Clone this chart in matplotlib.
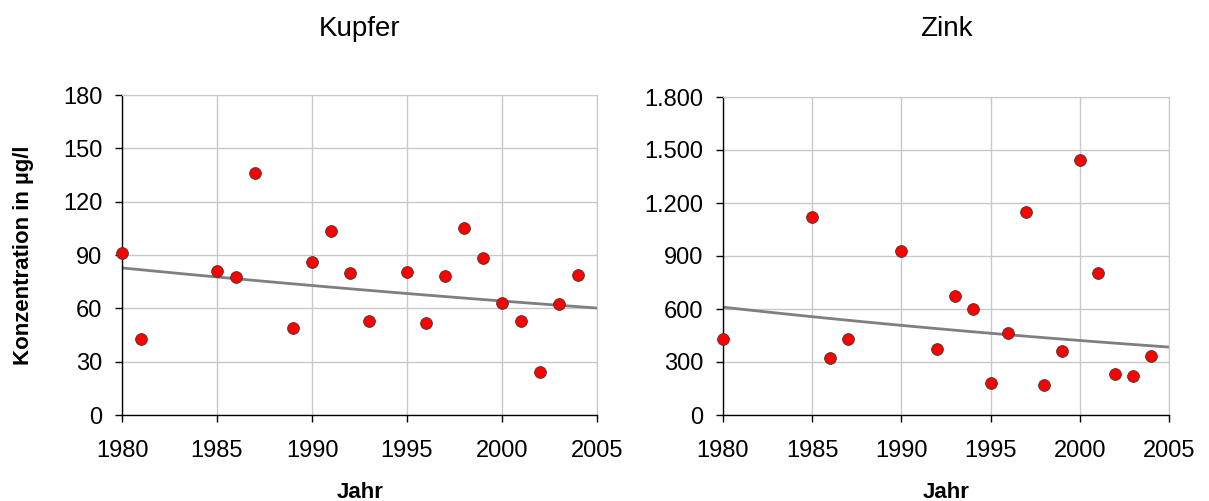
import numpy as np
import matplotlib
matplotlib.use('Agg')
import matplotlib.pyplot as plt
from matplotlib.ticker import FuncFormatter

plt.rcParams['font.family'] = ['Liberation Sans', 'DejaVu Sans']

## Messwerte ##
kupfer_jahre = [1980, 1981, 1985, 1986, 1987, 1989, 1990, 1991, 1992, 1993,
                1995, 1996, 1997, 1998, 1999, 2000, 2001, 2002, 2003, 2004]
kupfer_werte = [90.9, 42.9, 81.2, 77.4, 136.1, 48.9, 86.1, 103.3, 79.7, 53.1,
                80.6, 51.8, 78.4, 105.0, 88.3, 63.2, 52.7, 24.0, 62.4, 78.9]

zink_jahre = [1980, 1985, 1986, 1987, 1990, 1992, 1993, 1994, 1995, 1996,
              1997, 1998, 1999, 2000, 2001, 2002, 2003, 2004]
zink_werte = [430, 1118, 322, 433, 929, 375, 671, 601, 179, 462,
              1150, 170, 364, 1442, 801, 232, 220, 334]

x_ticks = [1980, 1985, 1990, 1995, 2000, 2005]
kupfer_yticks = [0, 30, 60, 90, 120, 150, 180]
zink_yticks = [0, 300, 600, 900, 1200, 1500, 1800]


def tausender(v, pos):
    return f'{int(v):,}'.replace(',', '.')


def trend(jahre, werte):
    # exponentieller Trend (lineare Regression auf log-Werte)
    b, a = np.polyfit(jahre, np.log(werte), 1)
    xs = np.linspace(1980, 2005, 100)
    return xs, np.exp(a + b * xs)


fig = plt.figure(figsize=(12.09, 5.01), dpi=100)
ax1 = fig.add_axes([122 / 1209, 86 / 501, 475 / 1209, 320 / 501])
ax2 = fig.add_axes([723 / 1209, 86 / 501, 446 / 1209, 318 / 501])

for ax, jahre, werte, yt in [(ax1, kupfer_jahre, kupfer_werte, kupfer_yticks),
                             (ax2, zink_jahre, zink_werte, zink_yticks)]:
    xs, ys = trend(jahre, werte)
    ax.plot(xs, ys, color='#7f7f7f', linewidth=2.0, zorder=2)
    ax.scatter(jahre, werte, s=72, color='#ff0000', edgecolors='#3a3a3a',
               linewidths=0.6, zorder=3, clip_on=False)
    ax.set_xlim(1980, 2005)
    ax.set_ylim(yt[0], yt[-1])
    ax.set_xticks(x_ticks)
    ax.set_yticks(yt)
    ax.grid(True, color='#c8c8c8', linewidth=1.0, zorder=0)
    ax.set_axisbelow(True)
    ax.spines['top'].set_color('#c8c8c8')
    ax.spines['right'].set_color('#c8c8c8')
    ax.spines['left'].set_linewidth(1.0)
    ax.spines['bottom'].set_linewidth(1.0)
    ax.tick_params(axis='both', direction='out', length=5, width=1.0,
                   labelsize=17)
    ax.tick_params(axis='x', pad=13)
    ax.tick_params(axis='y', pad=9)

ax2.yaxis.set_major_formatter(FuncFormatter(tausender))

fig.text(360 / 1209, 1 - 29 / 501, 'Kupfer', ha='center', va='center', fontsize=20)
fig.text(946 / 1209, 1 - 29 / 501, 'Zink', ha='center', va='center', fontsize=20)
fig.text(360 / 1209, 1 - 492 / 501, 'Jahr', ha='center', va='center',
         fontsize=16, fontweight='bold')
fig.text(946 / 1209, 1 - 492 / 501, 'Jahr', ha='center', va='center',
         fontsize=16, fontweight='bold')
fig.text(24 / 1209, 1 - 255 / 501, 'Konzentration in µg/l', ha='center',
         va='center', rotation=90, fontsize=16, fontweight='bold')

plt.savefig('out.png', dpi=100)
